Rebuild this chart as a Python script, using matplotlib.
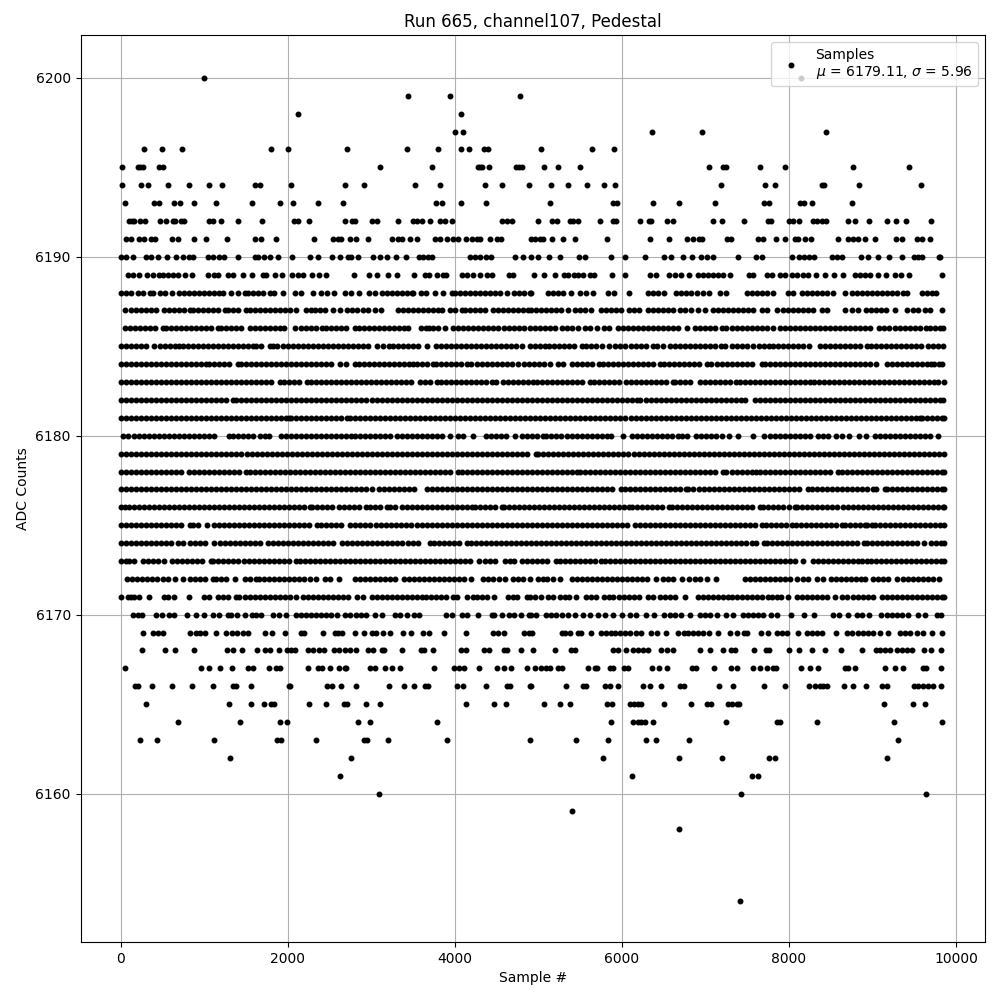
import matplotlib
matplotlib.use("Agg")
import matplotlib.pyplot as plt

s6200 = [996, 8140]
s6199 = [3444, 3948, 4776]
s6198 = [2124, 4080]
s6197 = [4008, 4104, 6363, 6962, 8447]
s6196 = [276, 492, 732, 1800, 2004, 2712, 3432, 3804, 4080, 4176, 4352, 4404, 5034, 5645, 5908]
s6195 = [12, 204, 232, 264, 464, 512, 3108, 3732, 4276, 4304, 4332, 4416, 4732, 4764, 4804, 5070, 5237, 5501, 7046, 7213, 7253, 7656, 7956, 8770, 9441]
s6194 = [12, 240, 324, 564, 816, 1056, 1212, 1604, 1668, 2040, 2688, 2916, 3528, 3828, 4368, 4560, 4892, 5153, 5357, 5585, 5788, 5920, 7190, 7716, 7836, 8399, 8423, 8842, 9585]
s6193 = [48, 396, 464, 644, 708, 876, 1140, 1572, 1908, 2064, 2364, 2664, 3780, 3852, 4080, 4380, 5142, 5896, 5948, 6375, 6686, 7118, 7704, 7764, 8135, 8183, 8279, 8758]
s6192 = [104, 132, 160, 232, 292, 468, 544, 624, 656, 724, 764, 1064, 1104, 1200, 1404, 1692, 2076, 2124, 2256, 2688, 2772, 2804, 3004, 3064, 3324, 3496, 3544, 3604, 3708, 3828, 3888, 3972, 4564, 4624, 4684, 4998, 5165, 5225, 5381, 5417, 5477, 5740, 5896, 5936, 6219, 6327, 6355, 6543, 6615, 7094, 7201, 7465, 7752, 7780, 8004, 8044, 8124, 8291, 8331, 8399, 8443, 8710, 8794, 8962, 9174, 9285, 9405, 9705]
s6191 = [60, 124, 224, 276, 364, 416, 612, 692, 876, 1024, 1272, 1608, 1680, 1860, 2316, 2544, 2604, 2644, 2744, 2824, 2964, 3252, 3324, 3364, 3468, 3552, 3764, 3824, 3904, 3984, 4044, 4140, 4204, 4264, 4308, 4428, 4504, 4556, 4918, 4958, 5018, 5058, 5165, 5297, 5441, 5824, 6339, 6567, 6782, 6854, 6926, 6958, 7261, 7309, 7633, 7692, 7848, 7956, 8072, 8112, 8195, 8267, 8590, 8710, 8770, 8830, 8914, 9034, 9285, 9349, 9529, 9589, 9692]
s6190 = [4, 64, 144, 304, 364, 444, 552, 660, 752, 824, 872, 1044, 1104, 1184, 1244, 1404, 1604, 1644, 1712, 1784, 1884, 2052, 2268, 2364, 2532, 2628, 2724, 2764, 2844, 3024, 3104, 3192, 3292, 3420, 3576, 3624, 3684, 3732, 4188, 4248, 4308, 4372, 4440, 4724, 4820, 4918, 4998, 5130, 5257, 5489, 5561, 5872, 6040, 6283, 6507, 6591, 6734, 6842, 6950, 7022, 7094, 7393, 7609, 7680, 8040, 8124, 8183, 8243, 8303, 8511, 8571, 8631, 8866, 8950, 9070, 9201, 9357, 9501, 9549, 9597, 9792, 9810]
s6189 = [84, 144, 224, 312, 384, 464, 504, 564, 624, 688, 768, 852, 1044, 1124, 1164, 1284, 1344, 1468, 1568, 1704, 1744, 1848, 1936, 2056, 2124, 2184, 2292, 2376, 2456, 2796, 2976, 3072, 3204, 3304, 3516, 3648, 3696, 3792, 3864, 3892, 4084, 4144, 4224, 4304, 4384, 4444, 4644, 4692, 4950, 5066, 5201, 5309, 5353, 5429, 5481, 5537, 5625, 5665, 5880, 6040, 6343, 6415, 6567, 6642, 6710, 6806, 6914, 6974, 7034, 7094, 7154, 7213, 7293, 7525, 7573, 7740, 7792, 7892, 7952, 8032, 8092, 8163, 8231, 8323, 8427, 8539, 8651, 8790, 8850, 8910, 8970, 9070, 9161, 9273, 9337, 9433, 9836]
s6188 = [4, 64, 120, 204, 264, 352, 392, 472, 536, 616, 696, 756, 816, 876, 936, 996, 1056, 1116, 1176, 1232, 1324, 1404, 1484, 1524, 1584, 1644, 1704, 1784, 1840, 1944, 2092, 2164, 2304, 2396, 2476, 2556, 2684, 2764, 2856, 2976, 3050, 3124, 3192, 3252, 3312, 3372, 3432, 3484, 3504, 3592, 3656, 3764, 3856, 3964, 4004, 4064, 4124, 4184, 4244, 4304, 4364, 4424, 4484, 4544, 4624, 4704, 4764, 4824, 4900, 4918, 5118, 5178, 5238, 5298, 5397, 5497, 5577, 5657, 5836, 5908, 6084, 6315, 6375, 6435, 6503, 6654, 6714, 6774, 6834, 6894, 6974, 7046, 7173, 7253, 7493, 7553, 7613, 7673, 7733, 7812, 7992, 8052, 8151, 8211, 8271, 8331, 8391, 8451, 8531, 8670, 8750, 8810, 8870, 8930, 8990, 9050, 9110, 9178, 9238, 9289, 9361, 9417, 9589, 9649, 9709, 9760]
s6187 = [48, 124, 184, 244, 304, 364, 424, 524, 584, 644, 704, 764, 832, 872, 932, 992, 1052, 1112, 1172, 1256, 1288, 1348, 1408, 1496, 1544, 1604, 1664, 1724, 1784, 1844, 1904, 1964, 2024, 2100, 2224, 2284, 2324, 2384, 2444, 2544, 2632, 2712, 2772, 2832, 2904, 2964, 3044, 3112, 3316, 3376, 3436, 3496, 3556, 3616, 3676, 3736, 3796, 3844, 3944, 4004, 4084, 4124, 4184, 4244, 4304, 4364, 4464, 4516, 4576, 4636, 4696, 4756, 4816, 4876, 4918, 4978, 5038, 5098, 5158, 5218, 5278, 5357, 5437, 5497, 5557, 5637, 5756, 5816, 5876, 5936, 5996, 6088, 6148, 6207, 6315, 6375, 6435, 6495, 6555, 6615, 6694, 6754, 6834, 6914, 6994, 7094, 7154, 7214, 7274, 7334, 7394, 7454, 7514, 7574, 7672, 7740, 7860, 7932, 7992, 8052, 8112, 8172, 8232, 8292, 8391, 8459, 8670, 8750, 8830, 8922, 8982, 9042, 9102, 9162, 9269, 9409, 9489, 9549, 9629, 9688, 9828]
s6186 = [56, 116, 176, 236, 296, 356, 416, 504, 544, 604, 664, 724, 784, 844, 904, 964, 1024, 1084, 1164, 1204, 1264, 1324, 1384, 1444, 1544, 1604, 1664, 1724, 1784, 1844, 1904, 1956, 2092, 2164, 2224, 2284, 2336, 2416, 2464, 2524, 2584, 2644, 2704, 2804, 2852, 2912, 2972, 3032, 3092, 3152, 3212, 3272, 3332, 3392, 3444, 3592, 3652, 3696, 3736, 3796, 3888, 3984, 4044, 4104, 4164, 4224, 4284, 4344, 4404, 4464, 4524, 4584, 4644, 4704, 4764, 4824, 4900, 4960, 5020, 5080, 5140, 5200, 5289, 5345, 5405, 5477, 5557, 5617, 5708, 5788, 5848, 5956, 6016, 6076, 6136, 6196, 6256, 6316, 6376, 6436, 6496, 6556, 6616, 6676, 6782, 6874, 6934, 6994, 7054, 7114, 7205, 7253, 7313, 7373, 7433, 7493, 7553, 7613, 7673, 7733, 7812, 7892, 7952, 8012, 8072, 8132, 8192, 8252, 8312, 8372, 8432, 8492, 8552, 8612, 8672, 8732, 8792, 8852, 8912, 8972, 9082, 9138, 9198, 9269, 9329, 9389, 9449, 9509, 9569, 9641, 9688, 9748, 9808, 9848]
s6185 = [0, 60, 120, 180, 240, 300, 404, 476, 536, 596, 656, 704, 744, 804, 864, 924, 984, 1044, 1104, 1164, 1224, 1284, 1344, 1404, 1464, 1524, 1584, 1624, 1684, 1784, 1824, 1876, 1944, 2004, 2064, 2124, 2184, 2244, 2304, 2364, 2424, 2484, 2544, 2604, 2664, 2724, 2784, 2844, 2904, 2964, 3064, 3136, 3216, 3264, 3324, 3384, 3444, 3504, 3564, 3664, 3776, 3836, 3896, 3956, 4016, 4076, 4136, 4196, 4256, 4316, 4376, 4436, 4496, 4556, 4616, 4676, 4736, 4804, 4896, 4956, 5026, 5086, 5130, 5190, 5250, 5310, 5370, 5430, 5529, 5577, 5637, 5697, 5757, 5848, 5920, 5984, 6044, 6104, 6164, 6224, 6284, 6375, 6423, 6495, 6575, 6635, 6695, 6755, 6815, 6875, 6935, 6995, 7055, 7115, 7193, 7237, 7313, 7373, 7433, 7493, 7573, 7644, 7704, 7764, 7812, 7872, 7932, 7992, 8052, 8112, 8172, 8243, 8371, 8431, 8491, 8551, 8611, 8671, 8731, 8791, 8851, 8930, 8982, 9042, 9102, 9162, 9222, 9282, 9342, 9402, 9462, 9522, 9582, 9668, 9720, 9780, 9840]
s6184 = [0, 60, 120, 180, 240, 300, 360, 420, 480, 540, 600, 664, 728, 788, 848, 908, 968, 1024, 1056, 1116, 1176, 1236, 1296, 1404, 1444, 1504, 1564, 1624, 1684, 1744, 1804, 1864, 1924, 1984, 2044, 2104, 2164, 2224, 2284, 2344, 2404, 2464, 2524, 2624, 2704, 2804, 2856, 2916, 2976, 3036, 3096, 3156, 3216, 3276, 3336, 3396, 3456, 3504, 3552, 3612, 3672, 3736, 3776, 3836, 3896, 3956, 4016, 4076, 4144, 4192, 4264, 4324, 4384, 4444, 4504, 4564, 4624, 4684, 4752, 4824, 4884, 4944, 5004, 5064, 5137, 5237, 5297, 5405, 5465, 5525, 5585, 5645, 5728, 5776, 5836, 5896, 5956, 6016, 6076, 6136, 6196, 6256, 6316, 6376, 6463, 6503, 6563, 6623, 6683, 6743, 6803, 6863, 6923, 7014, 7070, 7141, 7201, 7261, 7321, 7381, 7441, 7501, 7561, 7672, 7712, 7772, 7832, 7892, 7952, 8012, 8072, 8132, 8192, 8252, 8312, 8372, 8432, 8492, 8552, 8612, 8672, 8732, 8792, 8852, 8912, 8972, 9038, 9178, 9238, 9298, 9358, 9418, 9478, 9538, 9598, 9658, 9696, 9740, 9800, 9828]
s6183 = [0, 60, 120, 180, 240, 300, 360, 420, 480, 540, 600, 660, 720, 780, 840, 900, 960, 1020, 1080, 1140, 1200, 1260, 1320, 1380, 1440, 1500, 1560, 1620, 1680, 1740, 1800, 1904, 1952, 2012, 2072, 2132, 2232, 2276, 2336, 2396, 2456, 2516, 2576, 2636, 2696, 2756, 2816, 2876, 2936, 2996, 3056, 3116, 3176, 3236, 3296, 3356, 3416, 3476, 3584, 3644, 3704, 3784, 3832, 3892, 3952, 4012, 4072, 4132, 4192, 4252, 4312, 4372, 4444, 4496, 4572, 4632, 4692, 4752, 4812, 4872, 4932, 4986, 5046, 5106, 5166, 5226, 5286, 5346, 5406, 5466, 5526, 5625, 5665, 5725, 5785, 5845, 5905, 5965, 6056, 6104, 6164, 6224, 6284, 6344, 6404, 6464, 6524, 6607, 6634, 6694, 6754, 6814, 6934, 6994, 7054, 7114, 7174, 7234, 7294, 7365, 7413, 7473, 7533, 7593, 7653, 7713, 7773, 7833, 7893, 7953, 8013, 8073, 8133, 8193, 8251, 8299, 8359, 8419, 8479, 8539, 8599, 8659, 8719, 8779, 8839, 8899, 8959, 9019, 9079, 9139, 9199, 9259, 9319, 9379, 9439, 9499, 9559, 9619, 9679, 9739, 9788, 9856]
s6182 = [0, 60, 120, 180, 240, 300, 360, 420, 480, 540, 600, 660, 720, 780, 840, 900, 960, 1020, 1080, 1140, 1204, 1264, 1344, 1384, 1444, 1504, 1564, 1624, 1684, 1744, 1804, 1864, 1924, 1984, 2044, 2104, 2164, 2224, 2284, 2344, 2404, 2464, 2524, 2584, 2644, 2704, 2764, 2824, 2884, 2944, 3004, 3064, 3124, 3184, 3244, 3304, 3364, 3424, 3484, 3544, 3604, 3664, 3724, 3784, 3844, 3904, 3964, 4024, 4084, 4144, 4204, 4264, 4324, 4384, 4444, 4504, 4564, 4624, 4684, 4744, 4804, 4864, 4924, 4984, 5044, 5104, 5164, 5224, 5284, 5344, 5404, 5464, 5524, 5584, 5644, 5704, 5764, 5824, 5884, 5944, 6004, 6064, 6124, 6184, 6223, 6287, 6347, 6407, 6467, 6527, 6587, 6647, 6707, 6767, 6827, 6887, 6947, 7007, 7067, 7127, 7187, 7247, 7307, 7367, 7427, 7473, 7593, 7653, 7713, 7773, 7833, 7893, 7953, 8013, 8073, 8133, 8193, 8253, 8313, 8373, 8433, 8493, 8553, 8613, 8673, 8733, 8793, 8853, 8913, 8973, 9033, 9093, 9153, 9213, 9273, 9333, 9393, 9453, 9513, 9573, 9633, 9693, 9753, 9813, 9840]
s6181 = [0, 60, 120, 180, 240, 300, 360, 420, 480, 540, 600, 660, 720, 780, 840, 900, 960, 1020, 1080, 1140, 1200, 1260, 1320, 1380, 1440, 1500, 1560, 1620, 1680, 1740, 1800, 1860, 1920, 1980, 2016, 2044, 2104, 2164, 2224, 2284, 2344, 2404, 2464, 2524, 2584, 2644, 2712, 2744, 2804, 2864, 2924, 2984, 3044, 3104, 3164, 3224, 3284, 3344, 3404, 3464, 3524, 3584, 3644, 3704, 3764, 3824, 3884, 3944, 4004, 4064, 4124, 4184, 4244, 4304, 4364, 4424, 4484, 4544, 4604, 4664, 4724, 4784, 4844, 4904, 4964, 5024, 5084, 5144, 5204, 5264, 5324, 5384, 5444, 5504, 5564, 5624, 5684, 5744, 5804, 5864, 5924, 5984, 6044, 6104, 6164, 6224, 6284, 6344, 6404, 6464, 6524, 6584, 6644, 6704, 6764, 6824, 6884, 6944, 7004, 7064, 7124, 7184, 7244, 7304, 7364, 7424, 7484, 7544, 7604, 7664, 7724, 7784, 7844, 7904, 7964, 8024, 8084, 8144, 8204, 8264, 8324, 8384, 8444, 8504, 8564, 8624, 8684, 8744, 8804, 8864, 8924, 8984, 9044, 9104, 9164, 9224, 9284, 9344, 9404, 9464, 9524, 9568, 9589, 9649, 9709, 9769, 9829, 9860]
s6180 = [32, 92, 164, 224, 284, 344, 404, 464, 524, 584, 644, 704, 764, 824, 884, 944, 1004, 1064, 1124, 1296, 1344, 1404, 1464, 1524, 1584, 1664, 1724, 1776, 1916, 1976, 2036, 2096, 2156, 2216, 2276, 2336, 2396, 2456, 2516, 2576, 2636, 2696, 2756, 2804, 2864, 2924, 2984, 3044, 3104, 3164, 3224, 3304, 3364, 3424, 3484, 3544, 3604, 3664, 3724, 3784, 3844, 3944, 4044, 4104, 4224, 4372, 4432, 4492, 4552, 4612, 4724, 4804, 4864, 4924, 4984, 5058, 5098, 5158, 5218, 5278, 5338, 5398, 5458, 5518, 5578, 5638, 5698, 5758, 5818, 5876, 6016, 6127, 6183, 6243, 6303, 6363, 6423, 6483, 6543, 6603, 6674, 6726, 6786, 6886, 6942, 7002, 7062, 7122, 7205, 7285, 7393, 7565, 7700, 7772, 7832, 7892, 7952, 8012, 8072, 8132, 8192, 8252, 8351, 8403, 8463, 8563, 8630, 8718, 8842, 8922, 9030, 9090, 9150, 9210, 9270, 9330, 9390, 9450, 9510, 9570, 9630, 9690, 9788]
s6179 = [8, 68, 128, 188, 248, 308, 368, 428, 488, 548, 608, 668, 728, 788, 848, 908, 968, 1028, 1088, 1148, 1208, 1268, 1328, 1388, 1448, 1508, 1568, 1628, 1688, 1748, 1808, 1868, 1928, 1988, 2048, 2108, 2168, 2228, 2288, 2348, 2408, 2468, 2528, 2588, 2648, 2708, 2768, 2828, 2888, 2948, 3008, 3068, 3128, 3188, 3248, 3308, 3368, 3428, 3488, 3548, 3608, 3668, 3728, 3788, 3848, 3908, 3968, 4028, 4088, 4148, 4208, 4268, 4328, 4388, 4448, 4508, 4568, 4628, 4688, 4748, 4808, 4868, 4970, 5000, 5060, 5120, 5180, 5240, 5300, 5360, 5420, 5480, 5540, 5600, 5660, 5720, 5780, 5840, 5900, 5960, 6020, 6080, 6140, 6200, 6260, 6320, 6380, 6440, 6500, 6560, 6620, 6680, 6740, 6800, 6860, 6920, 6980, 7040, 7100, 7160, 7220, 7280, 7340, 7400, 7460, 7520, 7580, 7640, 7700, 7760, 7820, 7880, 7940, 8000, 8060, 8120, 8180, 8240, 8300, 8360, 8420, 8480, 8540, 8600, 8660, 8720, 8780, 8840, 8900, 8960, 9020, 9080, 9140, 9200, 9260, 9320, 9380, 9440, 9500, 9560, 9620, 9680, 9740, 9800, 9860]
s6178 = [4, 64, 124, 184, 244, 304, 364, 424, 484, 544, 604, 664, 724, 816, 884, 944, 1004, 1064, 1124, 1184, 1244, 1304, 1364, 1424, 1504, 1544, 1604, 1664, 1724, 1784, 1844, 1904, 1964, 2024, 2084, 2144, 2204, 2264, 2324, 2384, 2444, 2504, 2564, 2624, 2684, 2744, 2804, 2864, 2924, 2984, 3044, 3104, 3164, 3224, 3284, 3344, 3404, 3464, 3524, 3584, 3644, 3704, 3764, 3824, 3884, 3944, 4044, 4084, 4144, 4204, 4264, 4324, 4384, 4444, 4504, 4564, 4624, 4684, 4744, 4804, 4864, 4924, 4984, 5044, 5104, 5164, 5224, 5284, 5344, 5404, 5465, 5497, 5557, 5617, 5677, 5737, 5797, 5857, 5917, 5977, 6037, 6097, 6157, 6217, 6277, 6337, 6397, 6457, 6517, 6577, 6637, 6697, 6757, 6817, 6877, 6937, 6997, 7057, 7117, 7213, 7253, 7313, 7373, 7433, 7493, 7553, 7612, 7652, 7712, 7772, 7832, 7892, 7952, 8012, 8072, 8132, 8192, 8252, 8312, 8372, 8432, 8492, 8591, 8631, 8691, 8751, 8811, 8871, 8931, 8991, 9051, 9111, 9171, 9231, 9291, 9351, 9411, 9471, 9531, 9591, 9651, 9711, 9771, 9831, 9860]
s6177 = [4, 64, 124, 184, 244, 304, 364, 424, 484, 544, 604, 664, 724, 784, 844, 904, 964, 1024, 1084, 1144, 1204, 1264, 1324, 1384, 1444, 1504, 1564, 1624, 1684, 1744, 1804, 1864, 1924, 1984, 2044, 2104, 2164, 2224, 2284, 2344, 2404, 2464, 2524, 2584, 2644, 2704, 2764, 2824, 2884, 2944, 3004, 3096, 3156, 3216, 3276, 3336, 3396, 3456, 3516, 3664, 3724, 3784, 3844, 3904, 3964, 4024, 4084, 4144, 4204, 4264, 4324, 4384, 4444, 4504, 4564, 4624, 4684, 4744, 4804, 4864, 4924, 4984, 5044, 5104, 5164, 5224, 5284, 5344, 5404, 5464, 5524, 5584, 5644, 5704, 5764, 5824, 5884, 5996, 6036, 6096, 6156, 6216, 6276, 6336, 6396, 6456, 6516, 6576, 6636, 6696, 6774, 6798, 6858, 6918, 6978, 7038, 7098, 7158, 7218, 7278, 7338, 7398, 7458, 7518, 7578, 7638, 7698, 7758, 7818, 7878, 7938, 7998, 8058, 8118, 8231, 8271, 8331, 8391, 8451, 8511, 8571, 8631, 8691, 8751, 8811, 8871, 8931, 9010, 9038, 9150, 9178, 9238, 9298, 9358, 9418, 9478, 9538, 9598, 9658, 9718, 9778, 9838, 9860]
s6176 = [0, 56, 96, 156, 216, 276, 336, 396, 456, 516, 576, 636, 696, 756, 816, 876, 936, 996, 1056, 1116, 1176, 1236, 1296, 1356, 1416, 1476, 1536, 1596, 1656, 1716, 1776, 1836, 1896, 1956, 2016, 2076, 2136, 2196, 2264, 2296, 2356, 2416, 2476, 2536, 2616, 2672, 2732, 2792, 2852, 2944, 2984, 3044, 3104, 3184, 3224, 3284, 3364, 3424, 3484, 3544, 3604, 3664, 3724, 3784, 3844, 3904, 3964, 4024, 4084, 4144, 4204, 4244, 4304, 4364, 4424, 4484, 4564, 4584, 4644, 4704, 4764, 4824, 4884, 4944, 5004, 5064, 5124, 5184, 5244, 5304, 5364, 5424, 5484, 5544, 5604, 5664, 5724, 5784, 5844, 5904, 5964, 6024, 6088, 6116, 6176, 6236, 6296, 6356, 6416, 6476, 6567, 6595, 6655, 6715, 6775, 6835, 6895, 6955, 7015, 7075, 7135, 7195, 7255, 7315, 7375, 7435, 7495, 7555, 7652, 7684, 7744, 7804, 7864, 7924, 8000, 8072, 8092, 8152, 8212, 8272, 8332, 8392, 8452, 8512, 8571, 8642, 8702, 8762, 8822, 8882, 8942, 9002, 9062, 9122, 9182, 9242, 9302, 9362, 9422, 9489, 9541, 9601, 9661, 9721, 9781, 9841, 9860]
s6175 = [0, 60, 120, 180, 240, 300, 360, 420, 484, 544, 604, 664, 724, 832, 872, 932, 1032, 1116, 1176, 1236, 1296, 1356, 1416, 1476, 1536, 1596, 1656, 1716, 1776, 1836, 1896, 1956, 2016, 2076, 2136, 2196, 2256, 2352, 2404, 2464, 2524, 2584, 2644, 2752, 2812, 2872, 2932, 2992, 3052, 3112, 3172, 3232, 3292, 3352, 3412, 3472, 3552, 3604, 3664, 3724, 3784, 3844, 3904, 3964, 4024, 4084, 4144, 4204, 4264, 4324, 4384, 4444, 4504, 4564, 4624, 4684, 4744, 4804, 4864, 4924, 4984, 5044, 5104, 5164, 5224, 5284, 5344, 5404, 5464, 5524, 5584, 5644, 5704, 5764, 5824, 5884, 5944, 6004, 6064, 6155, 6215, 6275, 6335, 6395, 6455, 6515, 6575, 6635, 6695, 6755, 6815, 6875, 6935, 6995, 7055, 7115, 7175, 7235, 7295, 7355, 7415, 7475, 7535, 7595, 7672, 7720, 7780, 7840, 7900, 7960, 8032, 8080, 8140, 8200, 8260, 8320, 8380, 8440, 8500, 8560, 8630, 8670, 8730, 8790, 8850, 8910, 8938, 8990, 9030, 9090, 9150, 9210, 9270, 9330, 9390, 9450, 9510, 9570, 9630, 9690, 9750, 9810, 9860]
s6174 = [0, 60, 120, 180, 240, 300, 360, 420, 480, 540, 600, 684, 744, 832, 892, 952, 1012, 1116, 1192, 1252, 1312, 1372, 1432, 1492, 1552, 1612, 1672, 1764, 1824, 1884, 1944, 2004, 2064, 2124, 2184, 2244, 2304, 2364, 2424, 2484, 2544, 2656, 2712, 2772, 2832, 2892, 2952, 3012, 3072, 3132, 3192, 3252, 3312, 3372, 3444, 3496, 3556, 3704, 3756, 3816, 3876, 3936, 3996, 4056, 4144, 4192, 4252, 4312, 4372, 4432, 4492, 4552, 4612, 4672, 4732, 4792, 4852, 4912, 4972, 5032, 5092, 5152, 5212, 5272, 5332, 5392, 5452, 5512, 5572, 5632, 5692, 5752, 5812, 5872, 5932, 5992, 6052, 6112, 6172, 6232, 6292, 6352, 6412, 6472, 6532, 6592, 6652, 6712, 6772, 6832, 6892, 6952, 7012, 7072, 7132, 7192, 7252, 7312, 7372, 7432, 7492, 7553, 7604, 7700, 7740, 7800, 7860, 7920, 7980, 8040, 8100, 8160, 8220, 8280, 8340, 8400, 8460, 8520, 8580, 8640, 8700, 8760, 8820, 8902, 8930, 8990, 9050, 9110, 9170, 9230, 9290, 9350, 9410, 9470, 9530, 9616, 9696, 9756, 9816, 9860]
s6173 = [0, 60, 104, 156, 264, 324, 384, 444, 524, 616, 676, 736, 796, 856, 916, 976, 1084, 1112, 1172, 1232, 1292, 1352, 1412, 1472, 1532, 1592, 1652, 1712, 1772, 1832, 1892, 1952, 2012, 2104, 2144, 2204, 2264, 2324, 2384, 2444, 2504, 2564, 2624, 2684, 2744, 2804, 2864, 2924, 2984, 3044, 3104, 3164, 3224, 3284, 3344, 3404, 3464, 3524, 3584, 3644, 3704, 3764, 3824, 3884, 3944, 4004, 4064, 4124, 4184, 4296, 4364, 4424, 4484, 4604, 4656, 4712, 4804, 4864, 4924, 4984, 5044, 5104, 5217, 5265, 5325, 5385, 5445, 5505, 5565, 5625, 5685, 5756, 5796, 5856, 5916, 5976, 6036, 6096, 6156, 6216, 6276, 6336, 6396, 6456, 6516, 6576, 6636, 6696, 6756, 6816, 6876, 6936, 6996, 7056, 7116, 7176, 7236, 7296, 7356, 7416, 7476, 7536, 7596, 7656, 7716, 7776, 7836, 7896, 7956, 8016, 8076, 8171, 8283, 8343, 8403, 8463, 8523, 8583, 8643, 8703, 8763, 8830, 8870, 8930, 8978, 9038, 9098, 9158, 9218, 9278, 9338, 9398, 9458, 9518, 9578, 9638, 9698, 9758, 9818, 9860]
s6172 = [72, 132, 192, 252, 312, 372, 432, 504, 564, 656, 752, 832, 892, 952, 1012, 1112, 1144, 1204, 1264, 1376, 1484, 1544, 1624, 1656, 1716, 1776, 1836, 1896, 1956, 2016, 2076, 2136, 2196, 2272, 2344, 2444, 2504, 2616, 2804, 2864, 2924, 2984, 3044, 3104, 3164, 3224, 3284, 3392, 3452, 3512, 3572, 3632, 3692, 3752, 3812, 3872, 3932, 3992, 4052, 4112, 4192, 4344, 4404, 4464, 4532, 4604, 4696, 4756, 4816, 4898, 4998, 5058, 5106, 5177, 5265, 5405, 5465, 5525, 5585, 5645, 5705, 5765, 5825, 5885, 5945, 6005, 6065, 6125, 6185, 6245, 6305, 6415, 6487, 6547, 6607, 6726, 6806, 6874, 6934, 7014, 7122, 7473, 7533, 7593, 7653, 7713, 7773, 7833, 7893, 7953, 8013, 8092, 8171, 8231, 8331, 8411, 8499, 8559, 8619, 8679, 8739, 8799, 8859, 8910, 9010, 9070, 9130, 9190, 9289, 9361, 9421, 9481, 9541, 9601, 9661, 9721, 9800]
s6171 = [4, 84, 124, 164, 224, 344, 524, 564, 644, 816, 1004, 1064, 1164, 1224, 1284, 1384, 1424, 1484, 1544, 1604, 1664, 1724, 1784, 1844, 1904, 1964, 2024, 2104, 2184, 2244, 2304, 2364, 2424, 2484, 2544, 2604, 2664, 2724, 2832, 2904, 3004, 3064, 3124, 3184, 3244, 3304, 3364, 3424, 3484, 3544, 3604, 3656, 3716, 3776, 3836, 3896, 3984, 4032, 4144, 4216, 4264, 4324, 4384, 4472, 4632, 4692, 4744, 4864, 4898, 4958, 5038, 5118, 5178, 5257, 5317, 5369, 5449, 5577, 5637, 5688, 5784, 5844, 5896, 5968, 6028, 6088, 6148, 6208, 6315, 6375, 6455, 6515, 6575, 6635, 6754, 6914, 6974, 7034, 7094, 7154, 7214, 7273, 7313, 7373, 7433, 7493, 7553, 7613, 7673, 7752, 7792, 7852, 7900, 7992, 8092, 8152, 8212, 8272, 8331, 8391, 8451, 8551, 8630, 8690, 8762, 8830, 8890, 8950, 9010, 9110, 9178, 9238, 9298, 9358, 9418, 9478, 9538, 9598, 9658, 9718, 9778, 9838, 9860]
s6170 = [144, 204, 256, 424, 492, 584, 644, 792, 900, 1004, 1104, 1176, 1284, 1324, 1392, 1488, 1572, 1624, 1684, 1824, 1892, 1980, 2104, 2164, 2224, 2284, 2344, 2404, 2464, 2524, 2592, 2684, 2744, 2824, 2884, 2944, 3044, 3124, 3284, 3344, 3424, 3516, 3576, 3892, 3964, 4092, 4144, 4284, 4444, 4472, 4564, 4644, 4704, 4792, 4884, 4918, 4978, 5098, 5157, 5217, 5289, 5357, 5437, 5537, 5617, 5716, 5796, 5896, 6004, 6096, 6175, 6295, 6383, 6507, 6575, 6634, 6714, 6814, 6934, 6994, 7054, 7134, 7253, 7333, 7453, 7513, 7573, 7633, 7692, 7780, 7860, 8028, 8179, 8303, 8531, 8603, 8710, 8810, 8870, 8958, 9098, 9170, 9229, 9289, 9357, 9429, 9549, 9629, 9768, 9816]
s6169 = [264, 384, 444, 504, 828, 904, 952, 1012, 1140, 1260, 1336, 1392, 1464, 1524, 1728, 1812, 1964, 2164, 2196, 2424, 2564, 2604, 2656, 2808, 2912, 3004, 3052, 3144, 3228, 3376, 3480, 3624, 3696, 3872, 4140, 4464, 4524, 4592, 4832, 4884, 4930, 5289, 5317, 5385, 5481, 5517, 5633, 5756, 5808, 5868, 5924, 5976, 6036, 6096, 6167, 6235, 6347, 6423, 6531, 6674, 6742, 6794, 6854, 6914, 6974, 7042, 7154, 7297, 7373, 7465, 7501, 7660, 7748, 7852, 7912, 7972, 8112, 8219, 8271, 8339, 8391, 8563, 8690, 8750, 8830, 8890, 8950, 9010, 9090, 9189, 9329, 9389, 9449, 9529, 9609, 9708, 9836]
s6168 = [252, 528, 648, 876, 1272, 1348, 1456, 1632, 1728, 1784, 1896, 1992, 2044, 2092, 2244, 2304, 2372, 2432, 2552, 2616, 2684, 2744, 2824, 2964, 3024, 3124, 3156, 3372, 3592, 3632, 3744, 4080, 4132, 4352, 4416, 4592, 4624, 4788, 4938, 5201, 5397, 5437, 5896, 5956, 6056, 6136, 6195, 6255, 6315, 6475, 6535, 6607, 6938, 7058, 7213, 7301, 7353, 7585, 7724, 7756, 8004, 8124, 8279, 8435, 8627, 8878, 9038, 9090, 9150, 9209, 9289, 9349, 9409, 9477, 9620, 9700, 9820]
s6167 = [48, 960, 1056, 1188, 1332, 1524, 1584, 1776, 1860, 1912, 2244, 2364, 2412, 2508, 2612, 2684, 2704, 2984, 3044, 3168, 3248, 3344, 3756, 3996, 4056, 4116, 4296, 4512, 4588, 4668, 4860, 4962, 5038, 5098, 5145, 5237, 5285, 5597, 5676, 5708, 5856, 5896, 6024, 6076, 6363, 6447, 6535, 6842, 6886, 7098, 7309, 7373, 7573, 7652, 7740, 7812, 7844, 8147, 8255, 8351, 8670, 8710, 8794, 9153, 9273, 9369, 9609, 9640, 9824]
s6166 = [176, 212, 372, 612, 852, 1104, 1352, 1384, 1560, 2012, 2032, 2472, 2532, 2640, 2820, 3216, 3396, 3516, 3644, 3680, 4032, 4104, 4380, 4624, 4656, 4896, 4910, 5333, 5537, 5577, 5796, 5856, 5956, 6255, 6339, 6471, 6702, 6742, 7165, 7333, 7704, 7956, 8243, 8315, 8371, 8411, 8451, 8662, 8770, 8926, 9114, 9170, 9501, 9549, 9609, 9668, 9728, 9824]
s6165 = [300, 1296, 1560, 1716, 1796, 1836, 2256, 2460, 2676, 2716, 2940, 3108, 4140, 4476, 4608, 5066, 5261, 5385, 5824, 5884, 6096, 6143, 6195, 6235, 6507, 6830, 7014, 7062, 7273, 7321, 7373, 7405, 9141, 9489, 9633]
s6164 = [684, 1428, 1908, 1992, 2844, 2988, 3792, 5872, 6136, 6195, 6235, 6275, 6375, 7249, 7852, 7892, 8339, 9261, 9836]
s6163 = [228, 432, 1116, 1872, 1920, 2340, 2916, 2952, 3204, 3912, 4896, 5453, 5836, 6291, 6411, 6806, 9309]
s6162 = [1308, 2760, 5776, 6686, 7201, 7764, 7836, 9177]
s6161 = [2628, 6124, 7561, 7633]
s6160 = [3096, 7429, 9645]
s6159 = [5405]
s6158 = [6686]
s6154 = [7417]

levels = [6200, 6199, 6198, 6197, 6196, 6195, 6194, 6193, 6192, 6191, 6190, 6189, 6188, 6187, 6186, 6185, 6184, 6183, 6182, 6181, 6180, 6179, 6178, 6177, 6176, 6175, 6174, 6173, 6172, 6171, 6170, 6169, 6168, 6167, 6166, 6165, 6164, 6163, 6162, 6161, 6160, 6159, 6158, 6154]
rows = [s6200, s6199, s6198, s6197, s6196, s6195, s6194, s6193, s6192, s6191, s6190, s6189, s6188, s6187, s6186, s6185, s6184, s6183, s6182, s6181, s6180, s6179, s6178, s6177, s6176, s6175, s6174, s6173, s6172, s6171, s6170, s6169, s6168, s6167, s6166, s6165, s6164, s6163, s6162, s6161, s6160, s6159, s6158, s6154]

xs, ys = [], []
for level, row in zip(levels, rows):
    xs.extend(row)
    ys.extend([level] * len(row))

fig, ax = plt.subplots(figsize=(10, 10), dpi=100)
ax.plot(xs, ys, "k.", markersize=6.5, label="Samples\n$\\mu$ = 6179.11, $\\sigma$ = 5.96")
ax.set_title("Run 665, channel107, Pedestal")
ax.set_xlabel("Sample #")
ax.set_ylabel("ADC Counts")
ax.grid(True)
ax.legend(loc="upper right")
ax.set_xlim(-479, 10347)
ax.set_ylim(6151.7, 6202.4)
fig.subplots_adjust(left=0.0805, right=0.985, top=0.965, bottom=0.058)
fig.savefig("out.png", dpi=100)
